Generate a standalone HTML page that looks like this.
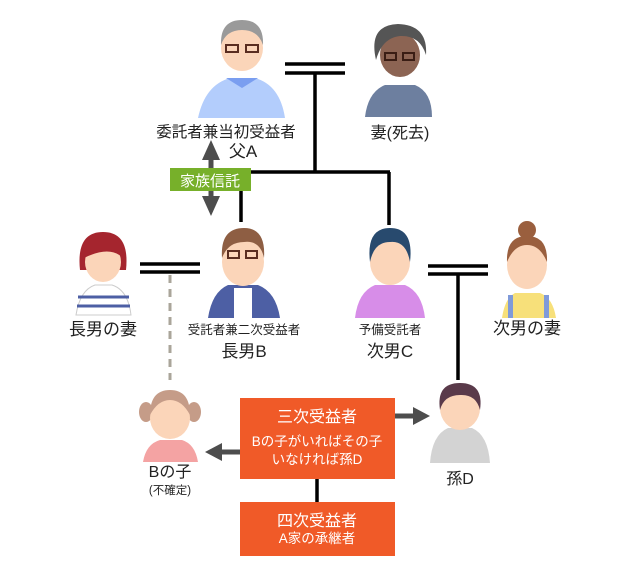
<!DOCTYPE html>
<html><head><meta charset="utf-8"><style>
html,body{margin:0;padding:0;background:#fff;}
svg{display:block;}
text{font-family:"Liberation Sans","Noto Sans CJK JP",sans-serif;fill:#222;}
</style></head><body>
<svg width="630" height="563" viewBox="0 0 630 563" xmlns="http://www.w3.org/2000/svg">
<g stroke="#000" stroke-width="3.5" fill="none">
<line x1="285" y1="64" x2="345" y2="64"/><line x1="285" y1="73" x2="345" y2="73"/>
<line x1="315" y1="73" x2="315" y2="172"/>
<line x1="240" y1="172" x2="390" y2="172"/>
<line x1="241" y1="172" x2="241" y2="222"/>
<line x1="389" y1="172" x2="389" y2="225"/>
<line x1="140" y1="264" x2="200" y2="264"/><line x1="140" y1="272" x2="200" y2="272"/>
<line x1="428" y1="266" x2="488" y2="266"/><line x1="428" y1="274" x2="488" y2="274"/>
<line x1="458" y1="274" x2="458" y2="380"/>
<line x1="317" y1="478" x2="317" y2="502"/>
</g>
<line x1="170" y1="275" x2="170" y2="380" stroke="#aaa59a" stroke-width="3" stroke-dasharray="8,6"/>
<g stroke="#4d4d4d" stroke-width="5">
<line x1="211" y1="160" x2="211" y2="196"/>
<line x1="240" y1="452" x2="222" y2="452"/>
<line x1="395" y1="416" x2="413" y2="416"/>
</g>
<g fill="#4d4d4d">
<path d="M202,160 L211,140 L220,160 Z"/><path d="M202,196 L211,216 L220,196 Z"/>
<path d="M222,443 L205,452 L222,461 Z"/><path d="M413,407 L430,416 L413,425 Z"/>
</g>
<rect x="170" y="168" width="81" height="23" fill="#77b02a"/>
<text x="210" y="186" font-size="15" style="fill:#fff" text-anchor="middle">家族信託</text>

<path d="M198,118 Q205,85 230,78 L255,78 Q280,85 285,118 Z" fill="#b3cdfc"/>
<path d="M226,78 L242,88 L258,78 Z" fill="#7a9ef0"/>
<ellipse cx="242" cy="48" rx="21" ry="23" fill="#fbd5b9"/>
<path d="M221,45 Q220,20 242,20 Q264,20 263,45 Q258,30 242,30 Q226,30 221,45Z" fill="#9a9a9a"/>
<rect x="226" y="45" width="12" height="7" fill="none" stroke="#5a2d20" stroke-width="2"/><rect x="246" y="45" width="12" height="7" fill="none" stroke="#5a2d20" stroke-width="2"/>
<path d="M365,117 Q368,92 385,85 L415,85 Q432,92 432,117 Z" fill="#6d7f9f"/>
<ellipse cx="400" cy="55" rx="20" ry="22" fill="#8c6453"/>
<path d="M376,60 Q368,25 398,24 Q428,25 426,55 Q420,35 400,36 Q382,38 376,60Z" fill="#555"/>
<rect x="385" y="53" width="11" height="7" fill="none" stroke="#3a1d14" stroke-width="2"/><rect x="403" y="53" width="11" height="7" fill="none" stroke="#3a1d14" stroke-width="2"/>

<path d="M76,315 Q80,290 95,285 L112,285 Q128,290 131,315 Z" fill="#fff" stroke="#ccc" stroke-width="1"/>
<g stroke="#4d5fa4" stroke-width="3"><line x1="78" y1="297" x2="129" y2="297"/><line x1="77" y1="306" x2="130" y2="306"/></g>
<path d="M80,270 Q76,232 103,232 Q130,232 126,270 Z" fill="#a5252e"/>
<ellipse cx="103" cy="262" rx="18" ry="20" fill="#fbd5b9"/>
<path d="M84,258 Q86,238 103,238 Q122,238 123,258 Q110,245 84,258Z" fill="#a5252e"/>
<path d="M208,318 Q212,292 228,285 L258,285 Q276,292 280,318 Z" fill="#4d5fa4"/>
<path d="M234,288 L252,288 L252,318 L234,318Z" fill="#fff"/>
<ellipse cx="243" cy="262" rx="21" ry="24" fill="#fbd5b9"/>
<path d="M222,258 Q220,228 244,228 Q266,228 264,258 Q260,240 244,242 Q228,242 222,258Z" fill="#8e5e43"/>
<rect x="228" y="251" width="11" height="7" fill="none" stroke="#5a2d20" stroke-width="2"/><rect x="246" y="251" width="11" height="7" fill="none" stroke="#5a2d20" stroke-width="2"/>
<path d="M355,318 Q358,292 375,285 L405,285 Q422,292 425,318 Z" fill="#d78de8"/>
<ellipse cx="390" cy="262" rx="20" ry="23" fill="#fbd5b9"/>
<path d="M370,262 Q366,228 390,228 Q414,228 410,262 Q406,240 390,242 Q374,242 370,262Z" fill="#284a6e"/>
<path d="M502,318 Q505,298 515,293 L540,293 Q553,298 556,318 Z" fill="#f7e07a"/>
<rect x="508" y="295" width="5" height="23" fill="#7f9ad9"/><rect x="544" y="295" width="5" height="23" fill="#7f9ad9"/>
<circle cx="527" cy="230" r="9" fill="#9a5f3e"/>
<ellipse cx="527" cy="265" rx="20" ry="24" fill="#fbd5b9"/>
<path d="M507,262 Q506,236 527,236 Q548,236 547,262 Q540,245 527,245 Q514,245 507,262Z" fill="#9a5f3e"/>

<path d="M143,462 Q146,444 160,440 L182,440 Q195,444 198,462 Z" fill="#f4a3a3"/>
<ellipse cx="146" cy="412" rx="7" ry="10" fill="#c59c88"/><ellipse cx="194" cy="412" rx="7" ry="10" fill="#c59c88"/>
<ellipse cx="170" cy="418" rx="20" ry="21" fill="#fbd5b9"/>
<path d="M150,415 Q150,390 170,390 Q190,390 190,415 Q182,400 170,400 Q158,400 150,415Z" fill="#c59c88"/>
<path d="M430,463 Q432,435 448,428 L472,428 Q488,435 490,463 Z" fill="#d3d3d3"/>
<ellipse cx="460" cy="408" rx="20" ry="22" fill="#fbd5b9"/>
<path d="M440,410 Q436,383 460,383 Q484,383 480,410 Q476,394 460,395 Q444,395 440,410Z" fill="#5a3a4a"/>

<rect x="240" y="398" width="155" height="81" fill="#f05a28"/>
<rect x="240" y="502" width="155" height="54" fill="#f05a28"/>
<g text-anchor="middle">
<text x="317" y="422" font-size="16" style="fill:#fff">三次受益者</text>
<text x="317" y="446" font-size="13.5" style="fill:#fff">Bの子がいればその子</text>
<text x="317" y="464" font-size="13.5" style="fill:#fff">いなければ孫D</text>
<text x="317" y="526" font-size="16" style="fill:#fff">四次受益者</text>
<text x="317" y="543" font-size="13.5" style="fill:#fff">A家の承継者</text>
</g>

<g text-anchor="middle">
<text x="226" y="137" font-size="15.5">委託者兼当初受益者</text>
<text x="243" y="157" font-size="17">父A</text>
<text x="400" y="138" font-size="16">妻(死去)</text>
<text x="103" y="335" font-size="17">長男の妻</text>
<text x="244" y="334" font-size="12.5">受託者兼二次受益者</text>
<text x="244" y="357" font-size="17">長男B</text>
<text x="390" y="334" font-size="12.5">予備受託者</text>
<text x="390" y="357" font-size="17">次男C</text>
<text x="527" y="334" font-size="17">次男の妻</text>
<text x="170" y="477" font-size="16">Bの子</text>
<text x="170" y="494" font-size="11.5">(不確定)</text>
<text x="460" y="484" font-size="16">孫D</text>
</g>
</svg>
</body></html>
